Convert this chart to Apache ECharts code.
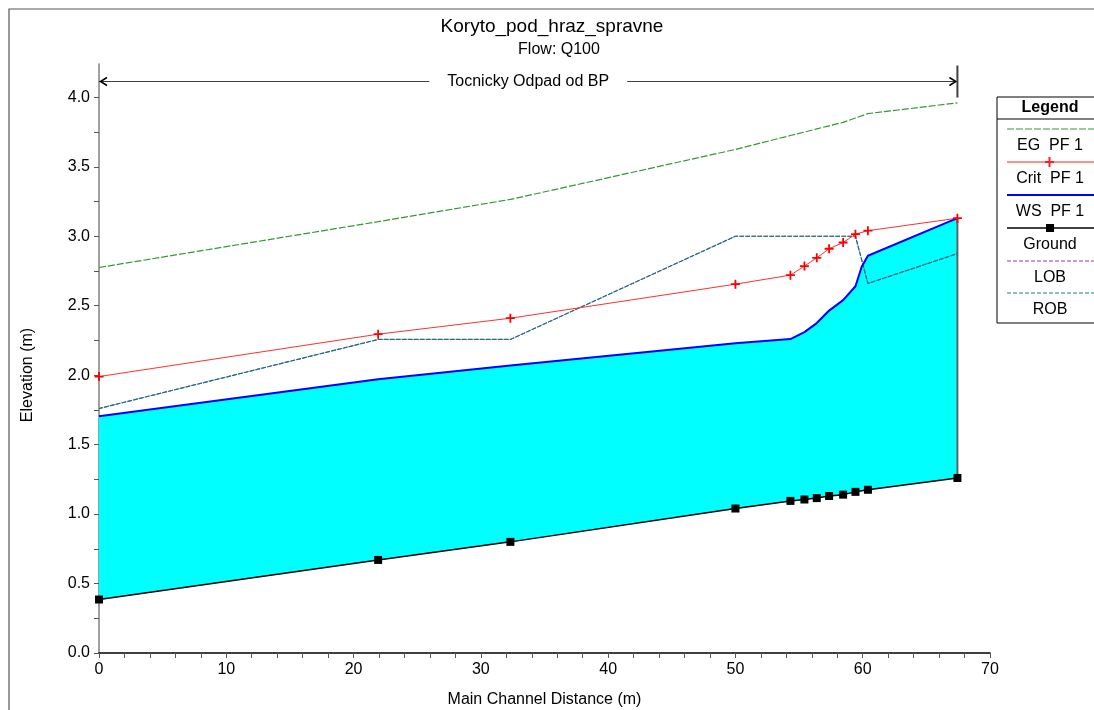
<!DOCTYPE html>
<html>
<head>
<meta charset="utf-8">
<script src="https://cdn.jsdelivr.net/npm/echarts@6/dist/echarts.min.js"></script>
<style>
  html, body { margin: 0; padding: 0; background: #fff; }
  #chart { width: 1094px; height: 710px; }
</style>
</head>
<body>
<div id="chart"></div>
<script>
// main channel stations (m)
var stations = [0, 21.93, 32.32, 50.0, 54.32, 55.42, 56.39, 57.36, 58.46, 59.43, 60.41, 67.44];
var groundElev = [0.385, 0.67, 0.80, 1.04, 1.095, 1.105, 1.115, 1.13, 1.14, 1.16, 1.175, 1.26];
var critElev = [1.99, 2.295, 2.41, 2.655, 2.72, 2.785, 2.845, 2.91, 2.955, 3.015, 3.04, 3.13];
var egElev = [2.775, 3.105, 3.265, 3.625, 3.725, 3.75, 3.773, 3.795, 3.82, 3.851, 3.883, 3.96];
var bankElev = [1.76, 2.257, 2.257, 3.0, 3.0, 3.0, 3.0, 3.0, 3.0, 3.0, 2.66, 2.875];
// water surface has one extra vertex near 59.9 m
var wsStations = [0, 21.93, 32.32, 50.0, 54.32, 55.42, 56.39, 57.36, 58.46, 59.43, 59.92, 60.41, 67.44];
var wsElev = [1.705, 1.97, 2.07, 2.23, 2.26, 2.31, 2.375, 2.465, 2.54, 2.64, 2.78, 2.86, 3.13];

// reach annotation
var reachName = 'Tocnicky Odpad od BP';
var reachFrom = 0, reachTo = 67.44, reachElev = 4.12;

// axis ticks
var yTicks = [0, 0.25, 0.5, 0.75, 1, 1.25, 1.5, 1.75, 2, 2.25, 2.5, 2.75, 3, 3.25, 3.5, 3.75, 4];
var yLabels = [0, 0.5, 1, 1.5, 2, 2.5, 3, 3.5, 4];

var FONT = '"Liberation Sans", Arial, sans-serif';
var plusPath = 'path://M4,0 H6 V4 H10 V6 H6 V10 H4 V6 H0 V4 H4 Z';

function pairs(xs, ys) {
    return xs.map(function (x, i) { return [x, ys[i]]; });
}

var chart = echarts.init(document.getElementById('chart'));

// legend box drawn by hand (HEC-RAS style)
var legendItems = [
    {name: 'EG  PF 1', color: '#339933', type: [7, 2], width: 1, y: 129},
    {name: 'Crit  PF 1', color: '#ff2020', type: 'solid', width: 1, y: 162, mark: 'plus'},
    {name: 'WS  PF 1', color: '#0000ff', type: 'solid', width: 2, y: 195},
    {name: 'Ground', color: '#000000', type: 'solid', width: 1.5, y: 228, mark: 'square'},
    {name: 'LOB', color: '#993399', type: [4, 2], width: 1, y: 261},
    {name: 'ROB', color: '#1a7a7a', type: [4, 2], width: 1, y: 293}
];
var legendGraphics = [
    {type: 'rect', shape: {x: 997, y: 97, width: 110, height: 226}, style: {fill: '#fff', stroke: '#000', lineWidth: 1}},
    {type: 'text', x: 1050, y: 108, style: {text: 'Legend', font: 'bold 16px ' + FONT, fill: '#000', align: 'center', verticalAlign: 'middle'}},
    {type: 'line', shape: {x1: 997, y1: 119, x2: 1094, y2: 119}, style: {stroke: '#000', lineWidth: 1}}
];
legendItems.forEach(function (it) {
    legendGraphics.push({type: 'line', shape: {x1: 1007, y1: it.y, x2: 1094, y2: it.y},
        style: {stroke: it.color, lineWidth: it.width, lineDash: it.type === 'solid' ? null : it.type}});
    if (it.mark === 'plus') {
        legendGraphics.push({type: 'line', shape: {x1: 1045, y1: it.y, x2: 1054, y2: it.y}, style: {stroke: it.color, lineWidth: 2}});
        legendGraphics.push({type: 'line', shape: {x1: 1049.5, y1: it.y - 5, x2: 1049.5, y2: it.y + 5}, style: {stroke: it.color, lineWidth: 2}});
    }
    if (it.mark === 'square') {
        legendGraphics.push({type: 'rect', shape: {x: 1046, y: it.y - 4, width: 8, height: 8}, style: {fill: '#000'}});
    }
    legendGraphics.push({type: 'text', x: 1050, y: it.y + 17,
        style: {text: it.name, font: '16px ' + FONT, fill: '#000', align: 'center', verticalAlign: 'middle'}});
});

chart.setOption({
    animation: false,
    backgroundColor: '#fff',
    grid: {left: 99, right: 104, top: 64, bottom: 57, outerBoundsMode: 'none', containLabel: false},
    xAxis: {
        type: 'value',
        min: 0, max: 70, interval: 10,
        name: 'Main Channel Distance (m)',
        nameLocation: 'middle',
        nameGap: 39,
        nameTextStyle: {fontFamily: FONT, fontSize: 16, color: '#000'},
        axisLine: {lineStyle: {color: '#000', width: 1.5}},
        axisTick: {length: 5, lineStyle: {color: '#555'}},
        minorTick: {show: true, splitNumber: 5, length: 5, lineStyle: {color: '#555'}},
        splitLine: {show: false},
        axisLabel: {fontFamily: FONT, fontSize: 16, color: '#000', margin: 9}
    },
    yAxis: {
        type: 'value',
        min: 0, max: 4.24,
        axisLine: {show: true, lineStyle: {color: '#808080', width: 1.5}},
        axisTick: {show: true, length: 5, customValues: yTicks, lineStyle: {color: '#555'}},
        splitLine: {show: false},
        axisLabel: {fontFamily: FONT, fontSize: 16, color: '#000', margin: 9,
            customValues: yLabels,
            formatter: function (v) { return v.toFixed(1); }}
    },
    graphic: [
        {type: 'rect', shape: {x: 9, y: 9, width: 1200, height: 800}, style: {fill: 'none', stroke: '#555', lineWidth: 1.2}, silent: true},
        {type: 'text', x: 552, y: 27, style: {text: 'Koryto_pod_hraz_spravne', font: '19px ' + FONT, fill: '#000', align: 'center', verticalAlign: 'middle'}},
        {type: 'text', x: 559, y: 50, style: {text: 'Flow: Q100', font: '16px ' + FONT, fill: '#000', align: 'center', verticalAlign: 'middle'}},
        {type: 'text', x: 28, y: 375, rotation: Math.PI / 2, style: {text: 'Elevation (m)', font: '16px ' + FONT, fill: '#000', align: 'center', verticalAlign: 'middle'}}
    ].concat(legendGraphics),
    series: [
        {
            // water between ground and water surface
            type: 'custom',
            silent: true,
            z: 1,
            data: [[0, 0]],
            encode: {x: 0, y: 1},
            renderItem: function (params, api) {
                var pts = [];
                for (var i = 0; i < wsStations.length; i++) pts.push(api.coord([wsStations[i], wsElev[i]]));
                for (var j = stations.length - 1; j >= 0; j--) pts.push(api.coord([stations[j], groundElev[j]]));
                var top = api.coord([stations[stations.length - 1], wsElev[wsElev.length - 1]]);
                var bot = api.coord([stations[stations.length - 1], groundElev[groundElev.length - 1]]);
                return {
                    type: 'group',
                    children: [
                        {type: 'polygon', shape: {points: pts}, style: {fill: '#00ffff'}},
                        {type: 'line', shape: {x1: top[0], y1: top[1], x2: bot[0], y2: bot[1]}, style: {stroke: '#606060', lineWidth: 2}}
                    ]
                };
            }
        },
        {
            // reach annotation arrow
            type: 'custom',
            silent: true,
            z: 3,
            data: [[reachFrom, reachElev]],
            encode: {x: 0, y: 1},
            renderItem: function (params, api) {
                var a = api.coord([reachFrom, reachElev]);
                var b = api.coord([reachTo, reachElev]);
                var y = Math.round(a[1]) + 0.5;
                var col = '#404040';
                return {
                    type: 'group',
                    children: [
                        {type: 'line', shape: {x1: a[0], y1: y, x2: b[0], y2: y}, style: {stroke: col, lineWidth: 1.2}},
                        {type: 'polyline', shape: {points: [[a[0] + 8, y - 4], [a[0] + 1.5, y], [a[0] + 8, y + 4]]}, style: {stroke: '#000', lineWidth: 1.5, fill: null}},
                        {type: 'polyline', shape: {points: [[b[0] - 8, y - 4], [b[0] - 1.5, y], [b[0] - 8, y + 4]]}, style: {stroke: '#000', lineWidth: 1.5, fill: null}},
                        {type: 'line', shape: {x1: b[0], y1: y - 16, x2: b[0], y2: y + 16}, style: {stroke: col, lineWidth: 2}},
                        {type: 'text', x: (a[0] + b[0]) / 2, y: y,
                            style: {text: reachName, font: '16px ' + FONT, fill: '#000', align: 'center', verticalAlign: 'middle',
                                backgroundColor: '#fff', padding: [2, 18]}}
                    ]
                };
            }
        },
        {
            name: 'LOB', type: 'line', z: 4, data: pairs(stations, bankElev),
            symbol: 'none', lineStyle: {color: '#7a4a8a', width: 1, type: [4, 2]}
        },
        {
            name: 'ROB', type: 'line', z: 5, data: pairs(stations, bankElev),
            symbol: 'none', lineStyle: {color: '#1f7080', width: 1.2, type: [5, 1], dashOffset: 1}
        },
        {
            name: 'Ground', type: 'line', z: 6, data: pairs(stations, groundElev),
            symbol: 'rect', symbolSize: 8, itemStyle: {color: '#000'},
            lineStyle: {color: '#000', width: 1.5}
        },
        {
            name: 'WS  PF 1', type: 'line', z: 7, data: pairs(wsStations, wsElev),
            symbol: 'none', lineStyle: {color: '#0000ff', width: 2}
        },
        {
            name: 'Crit  PF 1', type: 'line', z: 8, data: pairs(stations, critElev),
            symbol: plusPath, symbolSize: 9, itemStyle: {color: '#ff0000'},
            lineStyle: {color: '#ff3030', width: 1}
        },
        {
            name: 'EG  PF 1', type: 'line', z: 8, data: pairs(stations, egElev),
            symbol: 'none', lineStyle: {color: '#339933', width: 1.2, type: [7, 2]}
        }
    ]
});
</script>
</body>
</html>
